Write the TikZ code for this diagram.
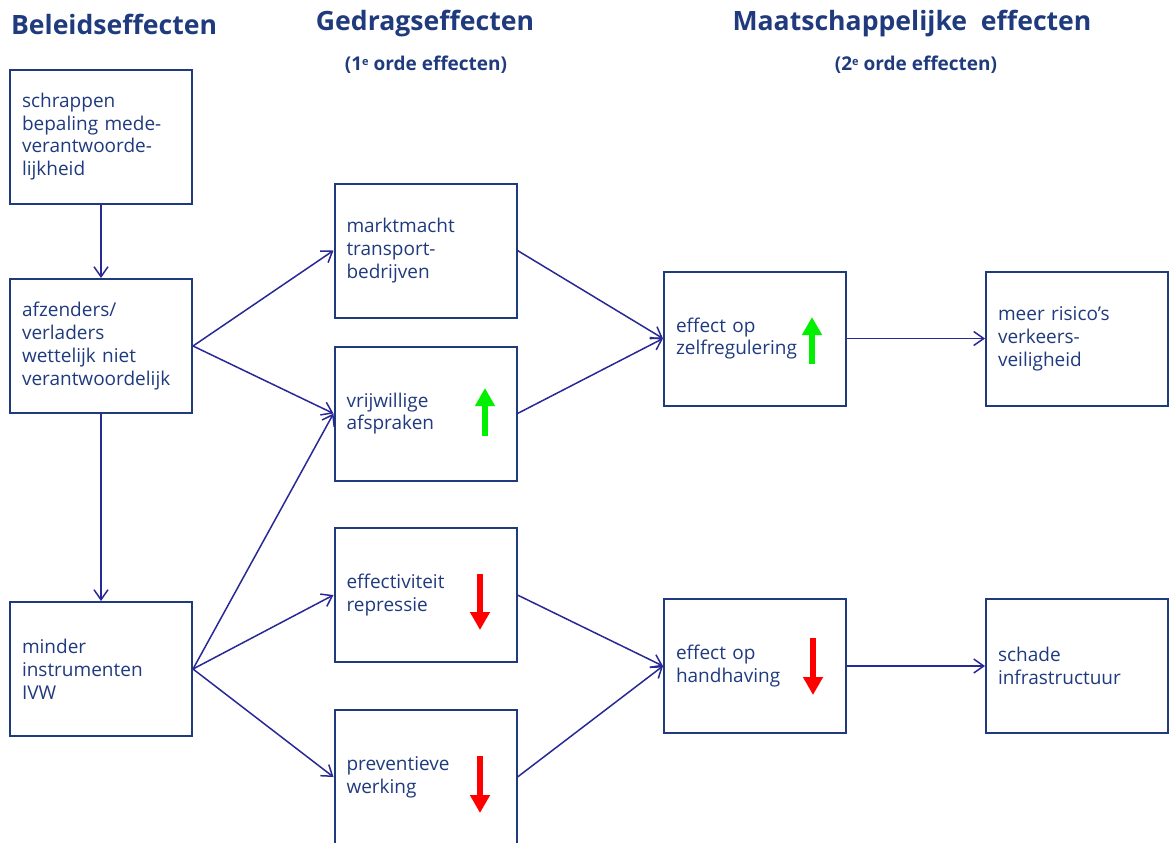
\documentclass[tikz,border=0pt]{standalone}
\usepackage{fontspec}
\setmainfont{Open Sans}
\usepackage{tikz}
\usetikzlibrary{arrows.meta}
\usepackage{xcolor}
\definecolor{navy}{RGB}{31,58,125}
\definecolor{lijn}{RGB}{40,40,150}
\definecolor{groen}{RGB}{0,240,0}
\definecolor{rood}{RGB}{255,0,0}
\tikzset{>={Straight Barb[length=5pt,width=7pt]}}
\newcommand{\kleine}[1]{\raisebox{0.55ex}{\fontsize{5.5}{6}\selectfont #1}}

\begin{document}
\begin{tikzpicture}[x=0.5pt, y=-0.5pt]
                % boxes in pixel coordinates, y runs downwards
                \tikzstyle{box}=[rectangle, draw=navy, line width=1pt, text=navy,
                        minimum width=91pt, minimum height=67pt, inner sep=6pt,
                        text width=79pt, align=left, font=\fontsize{9.5}{11.4}\selectfont]
                \tikzstyle{kop}=[text=navy, font=\fontsize{13.3}{16}\selectfont\bfseries]
                \tikzstyle{subkop}=[text=navy, font=\fontsize{9.5}{11}\selectfont\bfseries]
                \tikzstyle{verband}=[draw=lijn, line width=0.75pt, ->]
                \tikzstyle{omhoog}=[draw=groen, line width=3.3pt, -{Triangle[width=9.5pt,length=9pt]}]
                \tikzstyle{omlaag}=[draw=rood, line width=3.3pt, -{Triangle[width=9.5pt,length=9pt]}]
                \useasboundingbox (0,0) rectangle (1170,842);

                \node[kop, anchor=west] (K1) at (4,24) {Beleidseffecten};
                \node[kop] (K2) at (425,24) {Gedragseffecten};
                \node[kop] (K3) at (912,24) {Maatschappelijke\ \ effecten};
                \node[subkop] (S2) at (426,65) {(1\kleine{e} orde effecten)};
                \node[subkop] (S3) at (916,65) {(2\kleine{e} orde effecten)};

                \node[box] (B1) at (101,136.5) {schrappen\\bepaling mede-\\verantwoorde-\\lijkheid};
                \node[box] (B2) at (101,346) {afzenders/\\verladers\\wettelijk niet\\verantwoordelijk};
                \node[box] (B3) at (101,669) {minder\\instrumenten\\IVW};

                \node[box] (C1) at (425.5,250.5) {marktmacht\\transport-\\bedrijven};
                \node[box] (C2) at (425.5,413.5) {vrijwillige\\afspraken};
                \node[box] (C3) at (425.5,595) {effectiviteit\\repressie};
                \node[box] (C4) at (425.5,777) {preventieve\\werking};

                \node[box] (D1) at (755,338.5) {effect op\\zelfregulering};
                \node[box] (D2) at (755,666) {effect op\\handhaving};

                \node[box] (E1) at (1077,338.5) {meer risico's\\verkeers-\\veiligheid};
                \node[box] (E2) at (1077,666) {schade\\infrastructuur};

                \draw[verband] (B1) -- (B2);
                \draw[verband] (B2) -- (B3);
                \draw[verband] (B2.east) -- (C1.west);
                \draw[verband] (B2.east) -- (C2.west);
                \draw[verband] (B3.east) -- (C2.west);
                \draw[verband] (B3.east) -- (C3.west);
                \draw[verband] (B3.east) -- (C4.west);
                \draw[verband] (C1.east) -- (D1.west);
                \draw[verband] (C2.east) -- (D1.west);
                \draw[verband] (C3.east) -- (D2.west);
                \draw[verband] (C4.east) -- (D2.west);
                \draw[verband] (D1) -- (E1);
                \draw[verband] (D2) -- (E2);

                % pijltjes in de vakken
                \draw[omhoog] (485,436) -- (485,388);
                \draw[omhoog] (812,364) -- (812,317);
                \draw[omlaag] (480,574) -- (480,630);
                \draw[omlaag] (480,756) -- (480,813);
                \draw[omlaag] (813,638) -- (813,695);
\end{tikzpicture}
\end{document}
